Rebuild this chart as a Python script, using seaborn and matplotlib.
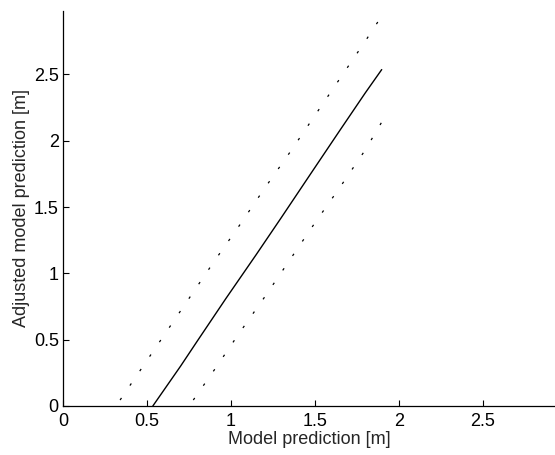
import pandas as pd
import seaborn as sns
import matplotlib.pyplot as plt

# Values
model_x = [0.535, 0.70, 0.80, 0.97, 1.15, 1.30, 1.48, 1.65, 1.80, 1.898]
adjusted_y = [0.0, 0.30, 0.49, 0.81, 1.14, 1.42, 1.76, 2.08, 2.36, 2.536]

upper_x = [0.34, 0.45, 0.60, 0.75, 0.90, 1.05, 1.20, 1.35, 1.50, 1.65, 1.80, 1.898]
upper_y = [0.045, 0.25, 0.53, 0.81, 1.09, 1.36, 1.64, 1.91, 2.19, 2.47, 2.75, 2.94]

lower_x = [0.776, 0.90, 1.05, 1.20, 1.35, 1.50, 1.65, 1.80, 1.898]
lower_y = [0.045, 0.27, 0.55, 0.82, 1.10, 1.38, 1.65, 1.93, 2.14]

x_ticks = [0, 0.5, 1, 1.5, 2, 2.5]
y_ticks = [0, 0.5, 1, 1.5, 2, 2.5]
tick_labels = ["0", "0.5", "1", "1.5", "2", "2.5"]

sns.set_style("ticks")
plt.rcParams['font.family'] = ['Liberation Sans', 'DejaVu Sans']

fig = plt.figure(figsize=(5.55, 4.55), dpi=100)
ax = fig.add_axes([0.1135, 0.1077, 0.8865, 0.8688])

main = pd.DataFrame({"x": model_x, "y": adjusted_y})
upper = pd.DataFrame({"x": upper_x, "y": upper_y})
lower = pd.DataFrame({"x": lower_x, "y": lower_y})

sns.lineplot(data=main, x="x", y="y", sort=False, estimator=None, color="black", linewidth=1.0, ax=ax)
for band in (upper, lower):
    sns.lineplot(data=band, x="x", y="y", sort=False, estimator=None, color="black",
                 linewidth=0.9, linestyle=(0, (2, 12)), ax=ax)

ax.set_xlim(0, 2.93)
ax.set_ylim(0, 2.98)
ax.set_xticks(x_ticks)
ax.set_xticklabels(tick_labels)
ax.set_yticks(y_ticks)
ax.set_yticklabels(tick_labels)
ax.tick_params(direction="in", length=4, width=0.8, labelsize=13, colors="black")
ax.tick_params(axis="x", pad=5)
ax.tick_params(axis="y", pad=3)
for side in ("top", "right"):
    ax.spines[side].set_visible(False)
for side in ("left", "bottom"):
    ax.spines[side].set_linewidth(0.9)
    ax.spines[side].set_color("black")

ax.set_xlabel("Model prediction [m]", fontsize=13, labelpad=1)
ax.set_ylabel("Adjusted model prediction [m]", fontsize=13, labelpad=3)

fig.savefig("out.png", dpi=100)
